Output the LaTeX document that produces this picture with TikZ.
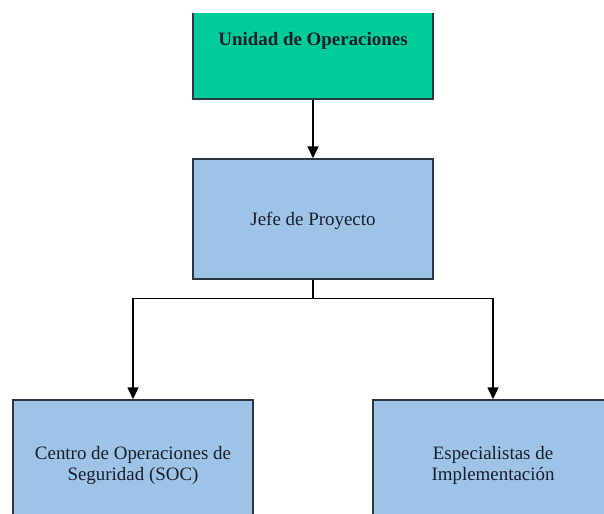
\documentclass[tikz,border=0pt]{standalone}
\usepackage{fontspec}
\setmainfont{Liberation Serif}
\usetikzlibrary{arrows.meta}
\definecolor{opgreen}{RGB}{0,204,153}
\definecolor{boxblue}{RGB}{157,195,230}
\definecolor{boxline}{RGB}{45,55,65}
\definecolor{boxtext}{RGB}{25,30,45}
\tikzset{
  unitbox/.style={draw=boxline, line width=1.4bp, minimum width=240bp, minimum height=120bp,
    align=center, text=boxtext, text depth=0pt, font=\fontsize{19}{21}\selectfont},
  link/.style={line width=1.4bp, -{Triangle[length=12bp,width=11bp]}}
}
\begin{document}
\begin{tikzpicture}[x=1bp, y=-1bp]
\useasboundingbox (0,0) rectangle (604,514);
\clip (0,14) rectangle (604,514);
\node[unitbox, fill=opgreen, font=\fontsize{19}{21}\selectfont\bfseries] (ops) at (313,39) {Unidad de Operaciones};
\node[unitbox, fill=boxblue] (jefe) at (313,219) {Jefe de Proyecto};
\node[unitbox, fill=boxblue, minimum height=126bp] (soc) at (133,463) {Centro de Operaciones de\\Seguridad (SOC)};
\node[unitbox, fill=boxblue, minimum height=126bp] (impl) at (493,463) {Especialistas de\\Implementación};
\draw[link] (ops) -- (jefe);
\draw[line width=1.4bp] (jefe.south) -- ++(0,19) coordinate (split);
\draw[link] (split) -| (soc.north);
\draw[link] (split) -| (impl.north);
\end{tikzpicture}
\end{document}
